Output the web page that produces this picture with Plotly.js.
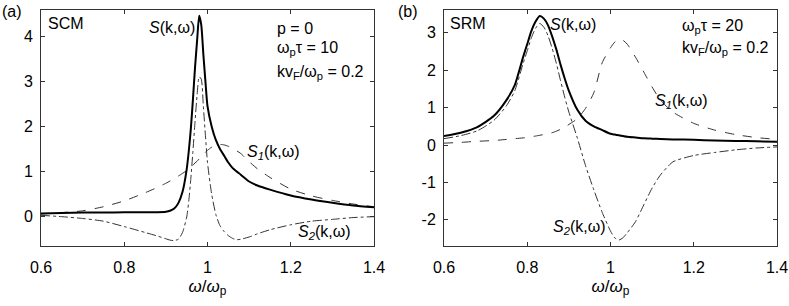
<!DOCTYPE html>
<html>
<head>
<meta charset="utf-8">
<script src="https://cdn.plot.ly/plotly-3.0.1.min.js"></script>
<style>html,body{margin:0;padding:0;background:#fff;}#chart{width:789px;height:306px;}</style>
</head>
<body>
<div id="chart"></div>
<script>
// Panel (a): SCM
const omegaA = [0.6,0.65,0.7,0.75,0.8,0.85,0.88,0.9,0.91,0.92,0.93,0.94,0.95,0.955,0.96,0.965,0.97,0.975,0.98,0.985,0.99,0.995,1.0,1.01,1.02,1.03,1.04,1.05,1.06,1.07,1.08,1.1,1.12,1.15,1.2,1.25,1.3,1.35,1.4];
const S_A  = [0.07,0.08,0.09,0.09,0.1,0.1,0.1,0.11,0.13,0.18,0.3,0.55,1.05,1.45,1.95,2.6,3.3,3.9,4.45,4.25,3.6,3.0,2.45,2.0,1.7,1.5,1.35,1.2,1.08,1.0,0.93,0.78,0.69,0.6,0.47,0.38,0.31,0.25,0.21];
const S1_A = [0.06,0.09,0.13,0.22,0.35,0.53,0.65,0.74,0.79,0.84,0.9,0.96,1.02,1.06,1.1,1.14,1.19,1.23,1.28,1.33,1.38,1.43,1.47,1.54,1.58,1.6,1.59,1.56,1.52,1.46,1.4,1.22,1.06,0.87,0.61,0.46,0.36,0.28,0.22];
const S2_A = [0.03,0.0,-0.04,-0.1,-0.22,-0.35,-0.43,-0.49,-0.52,-0.53,-0.5,-0.35,-0.01,0.35,0.85,1.45,2.1,2.7,3.1,3.05,2.45,1.8,1.2,0.5,0.05,-0.2,-0.33,-0.42,-0.48,-0.51,-0.5,-0.45,-0.38,-0.29,-0.18,-0.1,-0.06,-0.02,0.0];

// Panel (b): SRM
const omegaB = [0.6,0.64,0.68,0.72,0.75,0.77,0.79,0.8,0.81,0.82,0.83,0.84,0.85,0.86,0.87,0.88,0.89,0.9,0.92,0.94,0.96,0.98,1.0,1.01,1.02,1.03,1.04,1.06,1.08,1.1,1.12,1.15,1.2,1.25,1.3,1.35,1.4];
const S_B  = [0.24,0.33,0.48,0.78,1.2,1.6,2.35,2.7,3.05,3.3,3.45,3.38,3.2,2.9,2.55,2.15,1.78,1.45,0.95,0.65,0.5,0.4,0.3,0.28,0.26,0.24,0.22,0.2,0.18,0.17,0.16,0.15,0.14,0.12,0.11,0.1,0.09];
const S1_B = [0.05,0.07,0.1,0.12,0.15,0.17,0.19,0.2,0.22,0.24,0.26,0.28,0.3,0.33,0.37,0.42,0.48,0.55,0.7,0.98,1.4,2.2,2.6,2.75,2.83,2.8,2.7,2.35,1.95,1.55,1.2,0.88,0.58,0.4,0.28,0.2,0.15];
const S2_B = [0.17,0.25,0.38,0.66,1.05,1.45,2.18,2.52,2.87,3.12,3.25,3.15,2.92,2.58,2.18,1.72,1.28,0.88,0.2,-0.55,-1.2,-1.8,-2.3,-2.48,-2.54,-2.48,-2.35,-2.05,-1.6,-1.15,-0.8,-0.45,-0.28,-0.2,-0.13,-0.08,-0.05];

const xTicks = [0.6,0.8,1,1.2,1.4];
const xTickText = ['0.6','0.8','1','1.2','1.4'];
const yTicksA = [0,1,2,3,4];
const yTickTextA = ['0','1','2','3','4'];
const yTicksB = [-2,-1,0,1,2,3];
const yTickTextB = ['-2','-1','0','1','2','3'];

const solid = {color:'#000', width:2};
const dashed = {color:'#333', width:1, dash:'dash'};
const dashdot = {color:'#333', width:1, dash:'dashdot'};

const traces = [
  {x:omegaA, y:S1_A, mode:'lines', line:dashed, xaxis:'x', yaxis:'y'},
  {x:omegaA, y:S2_A, mode:'lines', line:dashdot, xaxis:'x', yaxis:'y'},
  {x:omegaA, y:S_A, mode:'lines', line:solid, xaxis:'x', yaxis:'y'},
  {x:omegaB, y:S1_B, mode:'lines', line:dashed, xaxis:'x2', yaxis:'y2'},
  {x:omegaB, y:S2_B, mode:'lines', line:dashdot, xaxis:'x2', yaxis:'y2'},
  {x:omegaB, y:S_B, mode:'lines', line:solid, xaxis:'x2', yaxis:'y2'}
];
traces.forEach(t => { t.line = Object.assign({}, t.line, {shape:'spline', smoothing:0.6}); t.showlegend = false; t.hoverinfo='skip'; });

const font = {family:'Liberation Sans, Arial, sans-serif', size:16, color:'#000'};
const axisCommon = {
  showgrid:false, zeroline:false, showline:true, linecolor:'#333', linewidth:1,
  mirror:'ticks', ticks:'inside', ticklen:4, tickcolor:'#333', tickfont:{size:16, color:'#000'}
};
const xAxis = (dom, anchor) => Object.assign({}, axisCommon, {
  domain:dom, anchor:anchor, range:[0.6,1.4], tickvals:xTicks, ticktext:xTickText,
  ticklabelstandoff:7,
  title:{text:'<i>ω</i>/<i>ω</i><sub>p</sub>', font:{size:17}, standoff:4}
});
const yAxis = (anchor, rng, tv, tt) => Object.assign({}, axisCommon, {
  domain:[0,1], anchor:anchor, range:rng, tickvals:tv, ticktext:tt, ticklabelstandoff:4
});

const ann = (xr, yr, x, y, text, xanchor) => ({xref:xr, yref:yr, x:x, y:y, text:text, showarrow:false, xanchor:xanchor||'left', yanchor:'middle', font:{size:16}});

const annotations = [
  {xref:'paper', yref:'paper', x:0, y:0.995, text:'(a)', showarrow:false, xanchor:'left', yanchor:'middle', font:{size:16}},
  {xref:'paper', yref:'paper', x:396/789, y:0.995, text:'(b)', showarrow:false, xanchor:'left', yanchor:'middle', font:{size:16}},
  ann('x','y',0.612,4.27,'SCM'),
  ann('x','y',0.974,4.2,'<i>S</i>(k,ω)','right'),
  ann('x','y',1.161,4.17,'p = 0'),
  ann('x','y',1.161,3.72,'ω<sub>p</sub>τ = 10'),
  ann('x','y',1.161,3.19,'kv<sub>F</sub>/ω<sub>p</sub> = 0.2'),
  ann('x','y',1.089,1.42,'<i>S<sub>1</sub></i>(k,ω)'),
  ann('x','y',1.212,-0.36,'<i>S<sub>2</sub></i>(k,ω)'),
  ann('x2','y2',0.609,3.24,'SRM'),
  ann('x2','y2',0.849,3.21,'<i>S</i>(k,ω)'),
  ann('x2','y2',1.168,3.17,'ω<sub>p</sub>τ = 20'),
  ann('x2','y2',1.168,2.58,'kv<sub>F</sub>/ω<sub>p</sub> = 0.2'),
  ann('x2','y2',1.101,1.16,'<i>S<sub>1</sub></i>(k,ω)'),
  ann('x2','y2',0.856,-2.21,'<i>S<sub>2</sub></i>(k,ω)')
];

const layout = {
  width:789, height:306,
  margin:{l:0, r:0, t:10, b:60},
  paper_bgcolor:'#fff', plot_bgcolor:'#fff',
  font:font, showlegend:false,
  xaxis: xAxis([41/789, 374/789], 'y'),
  yaxis: yAxis('x', [-0.65, 4.58], yTicksA, yTickTextA),
  xaxis2: xAxis([444/789, 777/789], 'y2'),
  yaxis2: yAxis('x2', [-2.7, 3.61], yTicksB, yTickTextB),
  annotations: annotations
};

Plotly.newPlot('chart', traces, layout, {staticPlot:true, displayModeBar:false});
</script>
</body>
</html>
